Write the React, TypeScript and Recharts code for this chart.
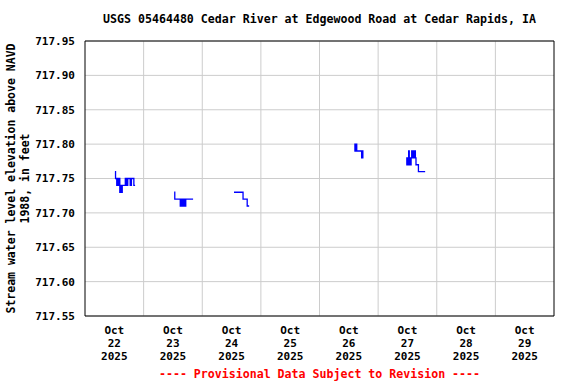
import { LineChart, Line, XAxis, YAxis, CartesianGrid, ReferenceLine, Label } from "recharts";

const FONT = "'DejaVu Sans Mono', 'Liberation Mono', monospace";

// x values are hours since Oct 22 2025 00:00
const dayNumbers = ["22", "23", "24", "25", "26", "27", "28", "29"];
const dayCenters = [12, 36, 60, 84, 108, 132, 156, 180];
const midnights = [24, 48, 72, 96, 120, 144, 168];
const levelTicks = [717.55, 717.6, 717.65, 717.7, 717.75, 717.8, 717.85, 717.9, 717.95];

const oct22Hours = [12.25, 12.5, 12.75, 13, 13.25, 13.5, 13.75, 14, 14.25, 14.5, 14.75, 15, 15.25, 15.5, 16, 16.5, 17, 17.5, 18, 18.5, 19, 19.5, 20, 20.5];
const oct22Levels = [717.76, 717.75, 717.75, 717.74, 717.75, 717.74, 717.74, 717.75, 717.73, 717.74, 717.73, 717.73, 717.74, 717.74, 717.74, 717.75, 717.74, 717.75, 717.75, 717.74, 717.75, 717.75, 717.74, 717.74];

const oct23Hours = [36.5, 36.75, 38.5, 39, 39.25, 39.5, 40, 40.25, 40.5, 41, 41.25, 42, 43, 44.25];
const oct23Levels = [717.73, 717.72, 717.72, 717.71, 717.72, 717.71, 717.72, 717.71, 717.72, 717.71, 717.72, 717.72, 717.72, 717.72];

const oct24Hours = [61, 64.7, 66.4, 67.2];
const oct24Levels = [717.73, 717.72, 717.71, 717.71];

const oct26Hours = [110.25, 110.5, 110.75, 111, 111.25, 111.5, 112, 112.5, 113, 113.25, 113.5, 113.75, 114];
const oct26Levels = [717.79, 717.8, 717.79, 717.8, 717.79, 717.79, 717.79, 717.79, 717.79, 717.78, 717.79, 717.78, 717.78];

const oct27Hours = [131.5, 131.75, 132, 132.25, 132.5, 132.75, 133, 133.25, 133.5, 133.75, 134, 134.25, 134.5, 134.75, 135, 135.25, 135.5, 136, 136.5, 137, 138, 139.25];
const oct27Levels = [717.77, 717.78, 717.77, 717.78, 717.79, 717.77, 717.78, 717.77, 717.78, 717.79, 717.78, 717.78, 717.79, 717.78, 717.79, 717.78, 717.77, 717.77, 717.76, 717.76, 717.76, 717.76];

const segments = [
  [oct22Hours, oct22Levels],
  [oct23Hours, oct23Levels],
  [oct24Hours, oct24Levels],
  [oct26Hours, oct26Levels],
  [oct27Hours, oct27Levels],
];

// join segments, with a null point between them so the line breaks
const data: { t: number; level: number | null }[] = [];
segments.forEach(([hours, levels], i) => {
  if (i > 0) data.push({ t: hours[0] - 0.1, level: null });
  hours.forEach((t, j) => data.push({ t, level: levels[j] }));
});

function DayTick(props: any) {
  const { x, y, payload } = props;
  const i = dayCenters.indexOf(payload.value);
  return (
    <text x={x} textAnchor="middle" fontFamily={FONT} fontWeight="bold" fontSize={11} fill="#000">
      <tspan x={x} y={y + 10}>Oct</tspan>
      <tspan x={x} y={y + 23}>{dayNumbers[i]}</tspan>
      <tspan x={x} y={y + 36}>2025</tspan>
    </text>
  );
}

function LevelLabel() {
  return (
    <g fontFamily={FONT} fontWeight="bold" fontSize={11.5} fill="#000">
      <text transform="translate(15,178.5) rotate(-90)" textAnchor="middle">
        Stream water level elevation above NAVD
      </text>
      <text transform="translate(29,178.5) rotate(-90)" textAnchor="middle">
        1988, in feet
      </text>
    </g>
  );
}

export default function App() {
  const textStyle = {
    position: "absolute" as const,
    left: 85,
    width: 469,
    textAlign: "center" as const,
    fontFamily: FONT,
    fontWeight: "bold" as const,
    fontSize: 11.6,
    whiteSpace: "nowrap" as const,
  };
  return (
    <div style={{ position: "absolute", left: 0, top: 0, width: 576, height: 384, background: "#fff" }}>
      <div style={{ ...textStyle, top: 12, color: "#000" }}>
        USGS 05464480 Cedar River at Edgewood Road at Cedar Rapids, IA
      </div>
      <LineChart width={576} height={384} data={data} margin={{ top: 41, right: 22, left: 0, bottom: 0 }}>
        <CartesianGrid vertical={false} stroke="#cccccc" strokeWidth={1} />
        {midnights.map((m) => (
          <ReferenceLine key={m} x={m} stroke="#cccccc" strokeWidth={1} />
        ))}
        <ReferenceLine y={717.95} stroke="#000" strokeWidth={1} />
        <ReferenceLine x={192} stroke="#000" strokeWidth={1} />
        <XAxis
          dataKey="t"
          type="number"
          domain={[0, 192]}
          ticks={dayCenters}
          interval={0}
          height={68}
          tickLine={false}
          axisLine={{ stroke: "#000" }}
          tick={<DayTick />}
          allowDataOverflow
        />
        <YAxis
          type="number"
          domain={[717.55, 717.95]}
          ticks={levelTicks}
          interval={0}
          width={85}
          tickLine={false}
          axisLine={{ stroke: "#000" }}
          tickFormatter={(v: number) => v.toFixed(2)}
          tick={{ fontFamily: FONT, fontWeight: "bold", fontSize: 11, fill: "#000" }}
          tickMargin={4}
          allowDataOverflow
        >
          <Label content={<LevelLabel />} />
        </YAxis>
        <Line
          dataKey="level"
          type="stepAfter"
          stroke="#0000ff"
          strokeWidth={1.3}
          dot={false}
          connectNulls={false}
          isAnimationActive={false}
        />
      </LineChart>
      <div style={{ ...textStyle, top: 367, color: "#ff0000" }}>
        ---- Provisional Data Subject to Revision ----
      </div>
    </div>
  );
}
